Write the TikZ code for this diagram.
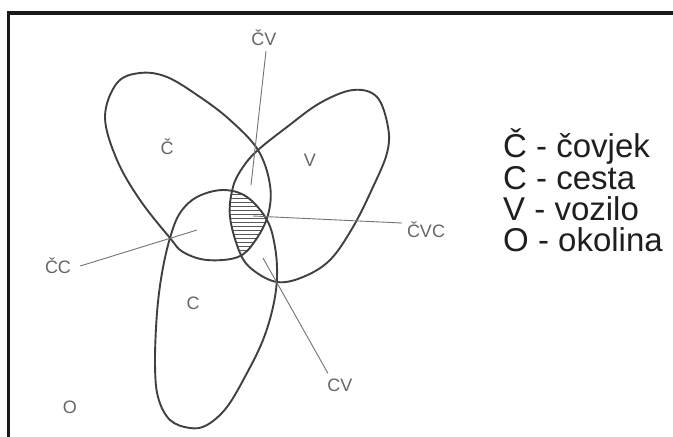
\documentclass[tikz,border=0pt]{standalone}
\usepackage{fontspec}
\setmainfont{Liberation Sans}
\begin{document}
\begin{tikzpicture}[x=1pt,y=-1pt,
  lobe/.style={draw=black!75, line width=1.9pt},
  leader/.style={draw=black!55, line width=0.9pt},
  hatch/.style={draw=black!65, line width=0.8pt},
  lab/.style={text=black!60, inner sep=1pt, font=\fontsize{18}{18}\selectfont},
  legend/.style={anchor=base west, inner sep=0pt, text=black!88, font=\fontsize{33}{33}\selectfont}]
\useasboundingbox (0,0) rectangle (673,437);
\fill[white] (0,0) rectangle (673,437);
% frame
\draw[line width=3.5pt, black!90] (673,13) -- (8.5,13) -- (8.5,437);

% lobes
\path[save path=\lobeCh] plot[smooth cycle, tension=0.6] coordinates {
  (140,73) (167,77) (200,97) (230,120) (258,150) (270,185) (268,215)
  (255,241) (238,257) (207,260) (183,252) (170,238) (140,200) (117,160) (105,117) (117,83)};
\path[save path=\lobeV] plot[smooth cycle, tension=0.6] coordinates {
  (258,150) (287,127) (320,103) (353,90) (377,97) (388,127) (387,153) (373,187)
  (353,227) (330,260) (303,277) (277,282) (253,270) (240,253) (230,217) (233,187) (243,167)};
\path[save path=\lobeC] plot[smooth cycle, tension=0.6] coordinates {
  (170,238) (180,213) (197,197) (223,190) (247,197) (267,220) (275,247) (277,277)
  (273,307) (263,340) (247,373) (227,407) (207,425) (190,428) (170,420) (158,397)
  (155,363) (157,313) (162,273)};

% hatching of the common part
\begin{scope}
  \clip[use path=\lobeCh];
  \clip[use path=\lobeV];
  \clip[use path=\lobeC];
  \foreach \yy in {186,190,...,262} \draw[hatch] (215,\yy) -- (285,\yy);
\end{scope}

\draw[lobe, use path=\lobeCh];
\draw[lobe, use path=\lobeV];
\draw[lobe, use path=\lobeC];

% region labels
\node[lab] (lc) at (167,147) {Č};
\node[lab] (lv) at (310,160) {V};
\node[lab] (lcc) at (193,303) {C};
\node[lab] (lo) at (70,407) {O};

% intersection labels and leaders
\coordinate (ecv) at (251,185);
\coordinate (ecc) at (197,230);
\coordinate (ecvc) at (253,216);
\coordinate (ecvb) at (263,258);
\node[lab] (tcv) at (264,38) {ČV};
\node[lab] (tcc) at (58,266) {ČC};
\node[lab] (tcvc) at (426,230) {ČVC};
\node[lab] (tcvb) at (340,385) {CV};
\draw[leader] (tcv.south) ++(2,4) -- (ecv);
\draw[leader] (tcc.east) ++(8,0) -- (ecc);
\draw[leader] (tcvc.west) ++(-4,-7) -- (ecvc);
\draw[leader] (tcvb.north) ++(-12,-4) -- (ecvb);

% legend
\node[legend] (k1) at (503,157) {Č - čovjek};
\node[legend] (k2) at (503,189) {C - cesta};
\node[legend] (k3) at (503,220) {V - vozilo};
\node[legend] (k4) at (503,251) {O - okolina};
\end{tikzpicture}
\end{document}
